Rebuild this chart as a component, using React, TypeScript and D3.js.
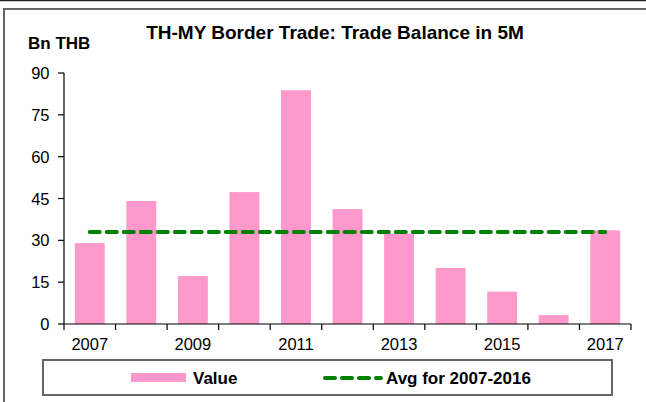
import React from "react";
import * as d3 from "d3";

const years = ["2007","2008","2009","2010","2011","2012","2013","2014","2015","2016","2017"];
const values = [29.0, 44.1, 17.2, 47.3, 83.8, 41.2, 32.4, 20.1, 11.6, 3.2, 33.6];
const avgValue = 33.0;
const yTicks = [0, 15, 30, 45, 60, 75, 90];
const xLabels = ["2007","2009","2011","2013","2015","2017"];
const titleText = "TH-MY Border Trade: Trade Balance in 5M";
const yUnit = "Bn THB";
const legendLabels = ["Value", "Avg for 2007-2016"];

const W = 646, H = 402;
const left = 64, right = 631, top = 73, bottom = 324;
const FONT = "'Liberation Sans', Arial, sans-serif";
const PINK = "#FF99CC";
const GREEN = "#008000";

export default function App() {
  const x = d3.scaleBand<string>().domain(years).range([left, right]).paddingInner(0.42).paddingOuter(0.21);
  const xb = d3.scaleBand<string>().domain(years).range([left, right]);
  const y = d3.scaleLinear().domain([0, 90]).range([bottom, top]);
  const avgLine = d3.line<[number, number]>().x(d => d[0]).y(d => d[1]);
  const avgPts: [number, number][] = [
    [xb(years[0])! + xb.bandwidth() / 2, y(avgValue)],
    [xb(years[years.length - 1])! + xb.bandwidth() / 2, y(avgValue)],
  ];
  const boundaries = years.map(yr => xb(yr)!).concat([right]);

  return (
    <svg width={W} height={H} style={{ position: "absolute", left: 0, top: 0, background: "#fff" }} fontFamily={FONT}>
      <rect x={0} y={0} width={W} height={H} fill="#fff" />
      <line x1={0} x2={W} y1={0.5} y2={0.5} stroke="#222" strokeWidth={1.5} />
      <path d={`M4,${H} L4,9 L${W},9`} fill="none" stroke="#666" strokeWidth={2} />

      <text x={335} y={39} textAnchor="middle" fontSize={19} fontWeight="bold" fill="#000">{titleText}</text>
      <text x={28} y={48.5} fontSize={17} fontWeight="bold" fill="#000">{yUnit}</text>

      {values.map((v, i) => (
        <rect key={years[i]} x={x(years[i])!} y={y(v)} width={x.bandwidth()} height={y(0) - y(v)} fill={PINK} />
      ))}

      <path d={avgLine(avgPts)!} fill="none" stroke={GREEN} strokeWidth={4} strokeDasharray="10 7" strokeLinecap="round" />

      <line x1={left} x2={left} y1={top} y2={bottom} stroke="#000" strokeWidth={1.2} />
      {yTicks.map(t => (
        <g key={t}>
          <line x1={left - 6} x2={left} y1={y(t)} y2={y(t)} stroke="#000" strokeWidth={1.2} />
          <text x={49.5} y={y(t) + 6} textAnchor="end" fontSize={16.5} fill="#000">{t}</text>
        </g>
      ))}

      <line x1={left} x2={right} y1={bottom} y2={bottom} stroke="#000" strokeWidth={1.2} />
      {boundaries.map((bx, i) => (
        <line key={i} x1={bx} x2={bx} y1={bottom} y2={bottom + 6} stroke="#000" strokeWidth={1.2} />
      ))}
      {xLabels.map(l => (
        <text key={l} x={xb(l)! + xb.bandwidth() / 2} y={350} textAnchor="middle" fontSize={16.5} fill="#000">{l}</text>
      ))}

      <rect x={43} y={360} width={569} height={35} fill="#fff" stroke="#666" strokeWidth={2} />
      <rect x={131} y={373} width={55} height={9} fill={PINK} />
      <text x={193} y={383.5} fontSize={17} fontWeight="bold" fill="#000">{legendLabels[0]}</text>
      <line x1={325} x2={381} y1={378} y2={378} stroke={GREEN} strokeWidth={4} strokeDasharray="10 7" strokeLinecap="round" />
      <text x={386} y={383.5} fontSize={17} fontWeight="bold" fill="#000">{legendLabels[1]}</text>
    </svg>
  );
}
